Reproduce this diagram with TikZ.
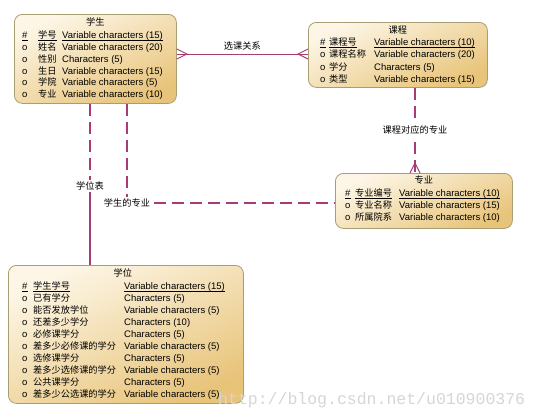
\documentclass[tikz,border=0pt]{standalone}
\usepackage{fontspec}
\setmainfont{Liberation Sans}
\setmonofont{Liberation Mono}
\newfontfamily\cjk[Scale=0.97]{Noto Sans CJK SC}
\usetikzlibrary{arrows.meta, calc, positioning}
\definecolor{relline}{HTML}{A63C76}
\definecolor{boxedge}{HTML}{A89E74}
\definecolor{boxlight}{HTML}{FDF6E6}
\definecolor{boxdark}{HTML}{E8C47A}
\tikzset{
  entity/.style={draw=boxedge, line width=0.8pt, rounded corners=8pt, top color=boxlight, bottom color=boxdark, shading angle=25, anchor=north west, inner sep=0pt},
  title/.style={inner sep=0pt, font=\fontsize{9.5}{11}\selectfont\cjk},
  cell/.style={anchor=mid west, inner sep=0pt, font=\fontsize{9.5}{11}\selectfont},
  keyline/.style={line width=0.6pt, black},
  rel/.style={line width=1.1pt, color=relline},
  reld/.style={rel, dash pattern=on 12pt off 6pt},
  lbl/.style={fill=white, text=black, inner sep=2pt, font=\fontsize{9.5}{11}\selectfont\cjk}
}

\begin{document}
\begin{tikzpicture}[x=1pt, y=-1pt]
\path[fill=white] (0,0) rectangle (539,418);

% entities
\node[entity, minimum width=162pt, minimum height=89pt] (xs) at (14,14) {};
\node[title] at ($(xs.north)+(0,8)$) {学生};
\node[cell] (xs-m) at ($(xs.north west)+(8,22)$) {\#};
\node[cell] (xs-n) at ($(xs.north west)+(24,22)$) {\cjk 学号};
\node[cell] (xs-t) at ($(xs.north west)+(48,22)$) {Variable characters (15)};
\foreach \n/\t [count=\i] in {姓名/Variable characters (20), 性别/Characters (5), 生日/Variable characters (15), 学院/Variable characters (5), 专业/Variable characters (10)}{
  \node[cell] at ($(xs.north west)+(8,22+11.8*\i)$) {o};
  \node[cell] at ($(xs.north west)+(24,22+11.8*\i)$) {\cjk \n};
  \node[cell] at ($(xs.north west)+(48,22+11.8*\i)$) {\t};
}

\node[entity, minimum width=179pt, minimum height=65pt] (kc) at (308,22) {};
\node[title] at ($(kc.north)+(0,8)$) {课程};
\node[cell] (kc-m) at ($(kc.north west)+(12,21)$) {\#};
\node[cell] (kc-n) at ($(kc.north west)+(21,21)$) {\cjk 课程号};
\node[cell] (kc-t) at ($(kc.north west)+(66,21)$) {Variable characters (10)};
\foreach \n/\t [count=\i] in {课程名称/Variable characters (20), 学分/Characters (5), 类型/Variable characters (15)}{
  \node[cell] at ($(kc.north west)+(12,21+12.2*\i)$) {o};
  \node[cell] at ($(kc.north west)+(21,21+12.2*\i)$) {\cjk \n};
  \node[cell] at ($(kc.north west)+(66,21+12.2*\i)$) {\t};
}

\node[entity, minimum width=177pt, minimum height=55pt] (zy) at (335,173) {};
\node[title] at ($(zy.north)+(0,7)$) {专业};
\node[cell] (zy-m) at ($(zy.north west)+(10,21)$) {\#};
\node[cell] (zy-n) at ($(zy.north west)+(20,21)$) {\cjk 专业编号};
\node[cell] (zy-t) at ($(zy.north west)+(64,21)$) {Variable characters (10)};
\foreach \n/\t [count=\i] in {专业名称/Variable characters (15), 所属院系/Variable characters (10)}{
  \node[cell] at ($(zy.north west)+(10,21+12*\i)$) {o};
  \node[cell] at ($(zy.north west)+(20,21+12*\i)$) {\cjk \n};
  \node[cell] at ($(zy.north west)+(64,21+12*\i)$) {\t};
}

\node[entity, minimum width=235pt, minimum height=138pt] (xw) at (8,265) {};
\node[title] at ($(xw.north)+(-3,8)$) {学位};
\node[cell] (xw-m) at ($(xw.north west)+(14,22)$) {\#};
\node[cell] (xw-n) at ($(xw.north west)+(25,22)$) {\cjk 学生学号};
\node[cell] (xw-t) at ($(xw.north west)+(116,22)$) {Variable characters (15)};
\foreach \n/\t [count=\i] in {已有学分/Characters (5), 能否发放学位/Variable characters (5), 还差多少学分/Characters (10), 必修课学分/Characters (5), 差多少必修课的学分/Variable characters (5), 选修课学分/Characters (5), 差多少选修课的学分/Variable characters (5), 公共课学分/Characters (5), 差多少公选课的学分/Variable characters (5)}{
  \node[cell] at ($(xw.north west)+(14,22+12*\i)$) {o};
  \node[cell] at ($(xw.north west)+(25,22+12*\i)$) {\cjk \n};
  \node[cell] at ($(xw.north west)+(116,22+12*\i)$) {\t};
}

% key underlines
\foreach \e in {xs, kc, zy, xw}
  \foreach \c in {m, n, t}
    \draw[keyline] ([yshift=-1.6pt]\e-\c.base west) -- ([yshift=-1.6pt]\e-\c.base east);

% relations
\draw[rel, line width=0.9pt] ($(xs.north east)+(0,40)$) coordinate (a1) -- node[above, text=black, font=\fontsize{9.5}{11}\selectfont\cjk] {选课关系} ($(kc.north west)+(0,32)$) coordinate (b1);
\draw[rel, line width=0.9pt] ($(a1)+(0,-5)$) -- ($(a1)+(10,0)$) -- ($(a1)+(0,5)$);
\draw[rel, line width=0.9pt] ($(b1)+(0,-5)$) -- ($(b1)+(-10,0)$) -- ($(b1)+(0,5)$);

\draw[reld] ($(kc.south west)+(107,0)$) -- node[lbl] {课程对应的专业} ($(zy.north west)+(80,0)$) coordinate (b2);
\draw[rel] ($(b2)+(-5,0)$) -- ($(b2)+(0,-10)$) -- ($(b2)+(5,0)$);

\coordinate (m3) at ($(xs.south west)+(76,82)$);
\draw[reld] ($(xs.south west)+(76,0)$) -- (m3);
\draw[rel] (m3) -- ($(xw.north west)+(82,0)$);
\node[lbl] at (m3) {学位表};

\draw[reld] ($(xs.south west)+(113,0)$) |- node[lbl] {学生的专业} ($(zy.north west)+(0,30)$);

% watermark
\node[anchor=base west, inner sep=0pt, text=black!16, font=\fontsize{16.5}{18}\selectfont\ttfamily] (wm) at (218,404) {http://blog.csdn.net/u010900376};
\end{tikzpicture}
\end{document}
